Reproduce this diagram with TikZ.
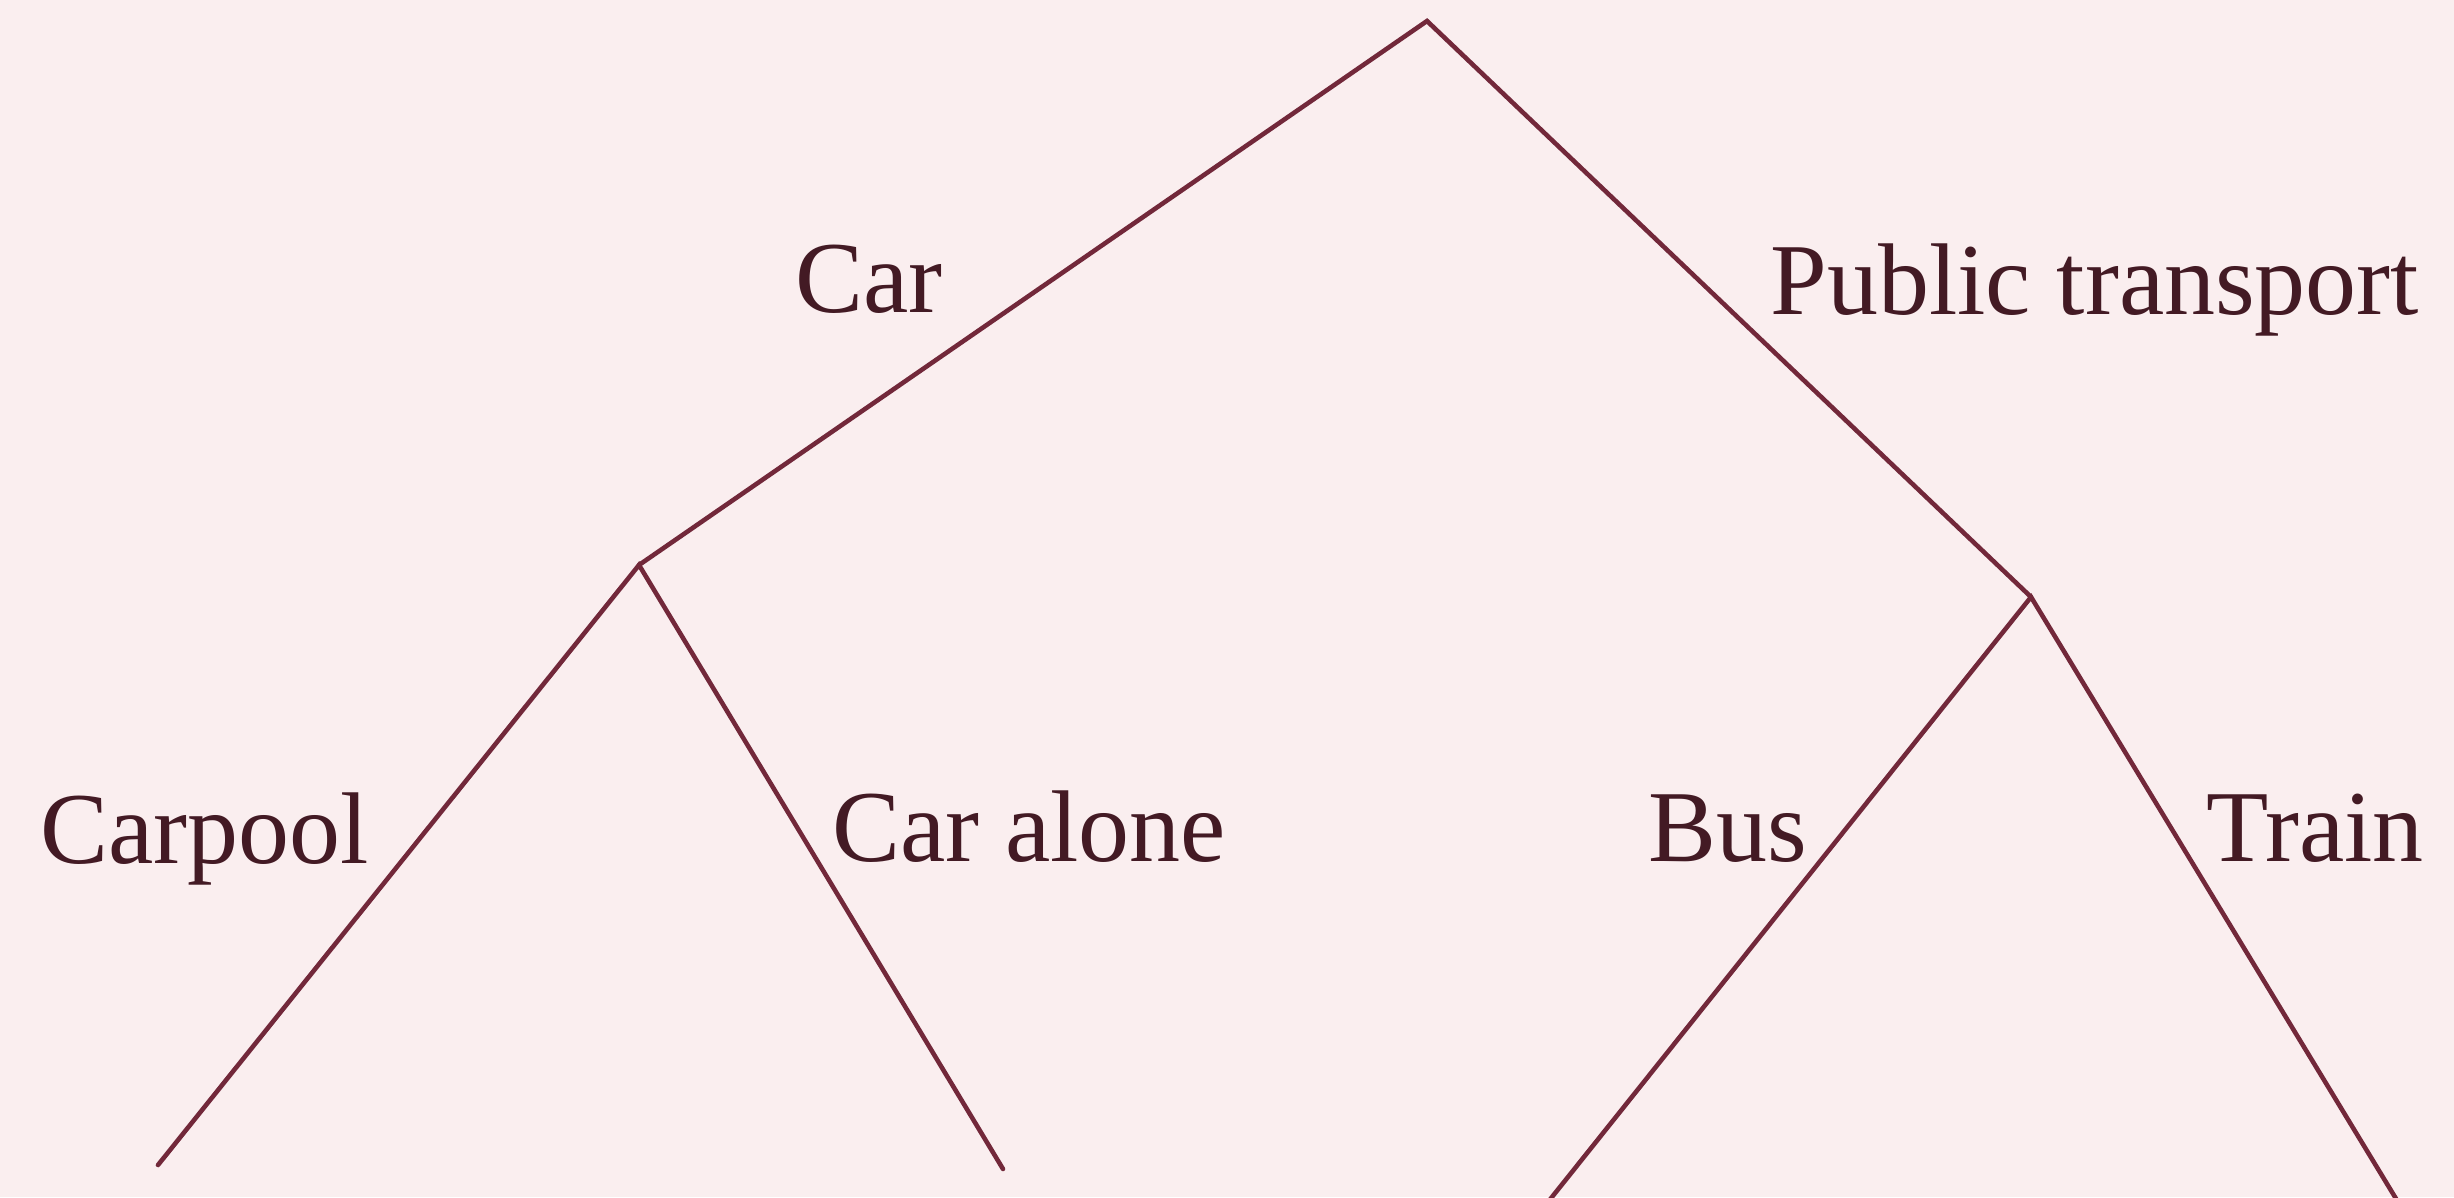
\documentclass[tikz,border=0pt]{standalone}
\usepackage{fontspec}
\setmainfont{Liberation Serif}
\definecolor{bgpink}{HTML}{FAEEEF}
\definecolor{linecol}{HTML}{72283A}
\definecolor{textcol}{HTML}{431A24}
\begin{document}
\begin{tikzpicture}[
  branch/.style={draw=linecol, line width=1.3pt, line cap=round, line join=miter},
  lbl/.style={anchor=base west, inner sep=0pt, text=textcol, font=\fontsize{29}{34}\selectfont}
]
\fill[bgpink] (0,0) rectangle (24.54,11.97);
\useasboundingbox (0,0) rectangle (24.54,11.97);
\coordinate (root) at (14.27,11.76);
\coordinate (car) at (6.39,6.32);
\coordinate (pub) at (20.31,6.00);
\coordinate (carpoolend) at (1.58,0.32);
\coordinate (alonend) at (10.03,0.28);
\coordinate (busend) at (15.48,-0.05);
\coordinate (trainend) at (23.98,-0.05);
\draw[branch] (car) -- (root) -- (pub);
\draw[branch] (carpoolend) -- (car) -- (alonend);
\draw[branch] (busend) -- (pub) -- (trainend);
\node[lbl] (tcar) at (7.95,8.85) {Car};
\node[lbl] (tpub) at (17.70,8.83) {Public transport};
\node[lbl] (tcarpool) at (0.40,3.34) {Carpool};
\node[lbl] (talone) at (8.32,3.36) {Car alone};
\node[lbl] (tbus) at (16.48,3.36) {Bus};
\node[lbl] (ttrain) at (22.06,3.36) {Train};
\end{tikzpicture}
\end{document}
